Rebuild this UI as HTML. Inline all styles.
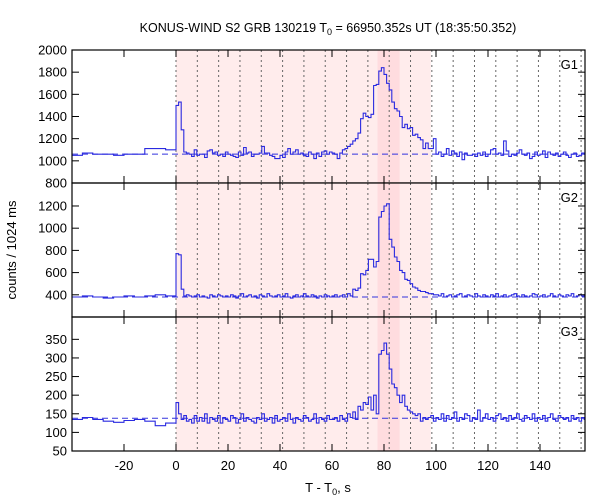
<!DOCTYPE html>
<html><head><meta charset="utf-8"><style>
body{margin:0;background:#fff}
svg{display:block;font-family:"Liberation Sans",sans-serif}
</style></head><body>
<svg id="chart" width="600" height="500" viewBox="0 0 600 500" xmlns="http://www.w3.org/2000/svg">
<text x="328" y="32" font-size="12.5" text-anchor="middle">KONUS-WIND S2 GRB 130219 T<tspan font-size="9" dy="3">0</tspan><tspan dy="-3"> = 66950.352s UT (18:35:50.352)</tspan></text>
<text x="328" y="492" font-size="13" text-anchor="middle">T - T<tspan font-size="9" dy="3">0</tspan><tspan dy="-3">, s</tspan></text>
<text transform="translate(16,250) rotate(-90)" font-size="13" text-anchor="middle">counts / 1024 ms</text>
<g id="plots"></g>
</svg>
<script>
// x ticks
const xTicks = [-20, 0, 20, 40, 60, 80, 100, 120, 140];
const dottedStep = 8.2;
const shadeLight = [0, 98];
const shadeDark = [77.5, 86];
// pre-trigger bins (4 s) and post-trigger 1 s bins
const preEdges = [-40, -36, -32, -28, -24, -20, -16, -12, -8, -4, 0];
const g1Pre = [1050, 1070, 1060, 1060, 1050, 1060, 1060, 1110, 1110, 1100];
const g1Post = [1500,1530,1280,1080,1070,1060,1040,1100,1050,1060,
1060,1030,1090,1100,1070,1080,1050,1060,1040,1080,
1060,1050,1040,1030,1080,1050,1120,1070,1080,1040,
1060,1060,1070,1130,1070,1070,1050,1040,1020,1020,
1050,1030,1080,1110,1060,1080,1100,1060,1070,1050,
1040,1080,1060,1020,1070,1040,1080,1090,1060,1080,
1070,1060,1020,1070,1100,1110,1130,1150,1180,1200,
1250,1380,1430,1400,1390,1420,1680,1690,1810,1840,
1780,1700,1640,1530,1470,1450,1400,1300,1330,1290,
1300,1230,1240,1210,1190,1110,1160,1110,1110,1200,
1060,1080,1040,1060,1110,1050,1090,1070,1040,1080,
1010,1070,1050,1050,1060,1040,1070,1050,1080,1040,
1060,1100,1110,1060,1070,1050,1180,1090,1040,1060,
1050,1070,1100,1060,1050,1070,1020,1040,1080,1050,
1060,1090,1030,1080,1060,1050,1070,1040,1060,1080,
1050,1030,1060,1070,1040,1050,1070,1060];
const g2Pre = [380, 390, 380, 370, 380, 390, 380, 390, 400, 390];
const g2Post = [770,760,450,390,400,390,380,390,400,380,
390,380,370,400,390,380,400,390,380,390,
380,400,390,370,390,410,380,390,400,380,
390,370,400,390,380,410,390,380,390,400,
380,390,410,380,370,390,400,380,390,410,
390,380,400,390,370,390,380,400,390,380,
390,400,380,390,400,380,410,390,450,440,
460,590,580,620,720,720,650,700,1100,1150,
1200,1220,900,830,740,700,620,600,540,530,
500,470,460,440,430,430,420,410,410,400,
400,390,410,380,390,400,380,390,400,410,
380,390,400,390,380,410,390,380,400,390,
380,400,390,410,380,390,400,380,390,400,
410,390,380,400,390,380,390,410,400,380,
390,400,380,390,410,390,380,400,390,380,
400,390,410,380,390,400,390,400];
const g3Pre = [135, 140, 135, 130, 127, 132, 135, 130, 118, 125];
const g3Post = [180,150,135,145,130,135,125,145,130,140,
130,150,125,140,135,130,145,125,140,135,
130,145,140,125,135,150,130,140,135,130,
125,140,135,150,130,135,140,125,145,130,
135,140,130,150,135,125,140,135,130,145,
140,130,135,150,125,140,135,130,145,135,
135,140,130,145,135,130,150,140,155,135,
170,160,180,175,195,160,200,150,310,320,
340,310,270,230,220,200,180,200,170,160,
155,150,145,150,130,140,135,140,145,130,
140,135,150,130,145,135,140,155,130,140,
135,150,145,130,140,135,160,130,140,150,
135,140,130,145,150,135,140,130,145,135,
140,150,135,130,145,140,135,150,130,140,
135,145,130,140,150,135,130,145,140,135,
140,130,145,135,140,130,140,135];
const bgLevels = [1060, 380, 138];
const panelNames = ["G1", "G2", "G3"];
const yRanges = [[800, 2000], [200, 1407], [50, 410]];
const yTickLists = [[800,1000,1200,1400,1600,1800,2000],[200,400,600,800,1000,1200],[50,100,150,200,250,300,350]];
const yTickShown = [[800,1000,1200,1400,1600,1800,2000],[400,600,800,1000,1200],[50,100,150,200,250,300,350]];

const NS = "http://www.w3.org/2000/svg";
const L = 72, R = 585, X0 = 176, PXS = 2.6;
const XMIN = (L - X0) / PXS, XMAX = (R - X0) / PXS;
const tops = [50, 183, 317], bots = [183, 317, 451];
const xs = t => X0 + t * PXS;
const root = document.getElementById('plots');
function mk(tag, attrs, parent) {
  const e = document.createElementNS(NS, tag);
  for (const k in attrs) e.setAttribute(k, attrs[k]);
  (parent || root).appendChild(e);
  return e;
}
const pres = [g1Pre, g2Pre, g3Pre], posts = [g1Post, g2Post, g3Post];
for (let p = 0; p < 3; p++) {
  const T = tops[p], B = bots[p], [y0, y1] = yRanges[p];
  const ys = v => B - (v - y0) / (y1 - y0) * (B - T);
  const g = mk('g', {});
  
  
  const s1 = mk('rect', {x: xs(shadeLight[0]), y: T, width: xs(shadeLight[1]) - xs(shadeLight[0]), height: B - T, fill: '#ffecec'}, g);
  
  
  const s2 = mk('rect', {x: xs(shadeDark[0]), y: T, width: xs(shadeDark[1]) - xs(shadeDark[0]), height: B - T, fill: '#ffdcdf'}, g);
  
  
  for (let t = 0; t <= XMAX + 0.01; t += dottedStep) {
    const l = mk('line', {x1: xs(t), x2: xs(t), y1: T, y2: B, stroke: '#666', 'stroke-width': 1, 'stroke-dasharray': '2,3'}, g);
    
    
  }
  const bl = mk('line', {x1: L, x2: R, y1: ys(bgLevels[p]), y2: ys(bgLevels[p]), stroke: '#3333dd', 'stroke-width': 1, 'stroke-dasharray': '6,4'}, g);
  
  
  let d = '';
  const pre = pres[p], post = posts[p];
  let first = true;
  for (let i = 0; i < pre.length; i++) {
    const a = Math.max(preEdges[i], XMIN), b = preEdges[i + 1], y = ys(pre[i]);
    d += (first ? 'M' : 'L') + xs(a).toFixed(1) + ',' + y.toFixed(1) + 'L' + xs(b).toFixed(1) + ',' + y.toFixed(1);
    first = false;
  }
  for (let i = 0; i < post.length; i++) {
    const a = i, b = Math.min(i + 1, XMAX), y = ys(post[i]);
    if (a >= XMAX) break;
    d += 'L' + xs(a).toFixed(1) + ',' + y.toFixed(1) + 'L' + xs(b).toFixed(1) + ',' + y.toFixed(1);
  }
  const h = mk('path', {d: d, fill: 'none', stroke: '#2a2ae0', 'stroke-width': 1.1}, g);
  
  
  const fr = mk('rect', {x: L, y: T, width: R - L, height: B - T, fill: 'none', stroke: '#000', 'stroke-width': 1.2}, g);
  
  
  for (const v of yTickLists[p]) {
    const y = ys(v);
    mk('line', {x1: L, x2: L + 7, y1: y, y2: y, stroke: '#000'}, g);
    mk('line', {x1: R, x2: R - 7, y1: y, y2: y, stroke: '#000'}, g);
    if (yTickShown[p].includes(v)) {
      const tx = mk('text', {x: L - 5, y: y + 4.5, 'font-size': 13, 'text-anchor': 'end'}, g);
      tx.textContent = v;
      
      
    }
  }
  for (const t of xTicks) {
    mk('line', {x1: xs(t), x2: xs(t), y1: T, y2: T + 7, stroke: '#000'}, g);
    mk('line', {x1: xs(t), x2: xs(t), y1: B, y2: B - 7, stroke: '#000'}, g);
  }
  const lab = mk('text', {x: 578, y: T + 19, 'font-size': 13, 'text-anchor': 'end'}, g);
  lab.textContent = panelNames[p];
  
  
}
for (const t of xTicks) {
  const tx = mk('text', {x: xs(t), y: 470, 'font-size': 13, 'text-anchor': 'middle'});
  tx.textContent = t;
  
  
}
</script>
</body></html>
